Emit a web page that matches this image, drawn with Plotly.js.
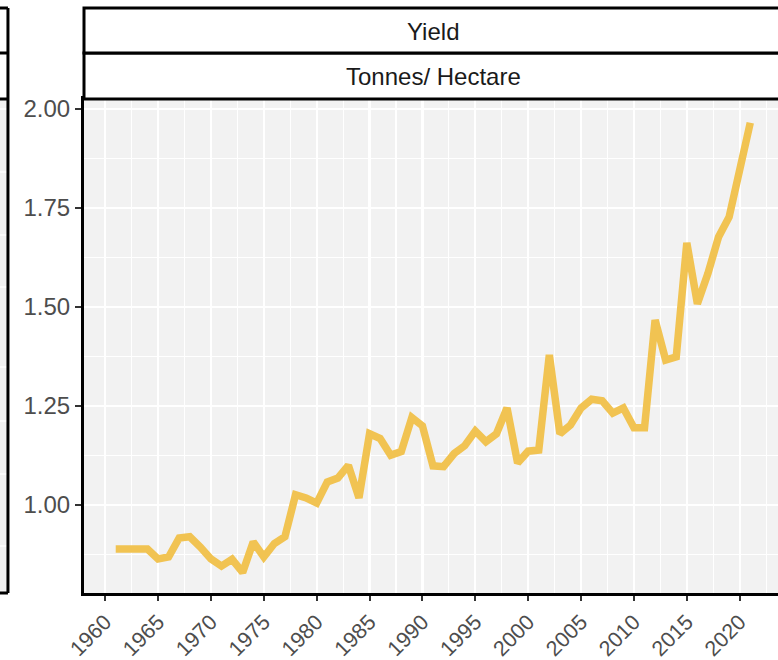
<!DOCTYPE html>
<html>
<head>
<meta charset="utf-8">
<script src="https://cdn.plot.ly/plotly-3.0.1.min.js"></script>
<style>
html, body { margin: 0; padding: 0; overflow: hidden; background: #ffffff; }
#chart { width: 790px; height: 660px; }
</style>
</head>
<body>
<div id="chart"></div>
<script>
// Data
const years = [1961,1962,1963,1964,1965,1966,1967,1968,1969,1970,
               1971,1972,1973,1974,1975,1976,1977,1978,1979,1980,
               1981,1982,1983,1984,1985,1986,1987,1988,1989,1990,
               1991,1992,1993,1994,1995,1996,1997,1998,1999,2000,
               2001,2002,2003,2004,2005,2006,2007,2008,2009,2010,
               2011,2012,2013,2014,2015,2016,2017,2018,2019,2020,2021];
const yieldValues = [0.889,0.889,0.889,0.889,0.864,0.869,0.917,0.920,0.894,0.864,
                     0.846,0.863,0.830,0.907,0.869,0.903,0.920,1.026,1.018,1.005,
                     1.058,1.068,1.100,1.018,1.180,1.168,1.126,1.135,1.221,1.200,
                     1.099,1.097,1.130,1.150,1.187,1.160,1.180,1.245,1.106,1.136,
                     1.139,1.379,1.180,1.202,1.245,1.267,1.263,1.232,1.245,1.195,
                     1.195,1.467,1.366,1.374,1.662,1.508,1.585,1.677,1.727,1.850,1.965];
const xTickVals = [1960,1965,1970,1975,1980,1985,1990,1995,2000,2005,2010,2015,2020];
const yTickVals = [1.00,1.25,1.50,1.75,2.00];
const yTickText = ["1.00","1.25","1.50","1.75","2.00"];
const stripTop = "Yield";
const stripBottom = "Tonnes/ Hectare";

const W = 790, H = 660;
const mL = 84, mR = 8.4, mT = 99, mB = 67;
const plotW = W - mL - mR, plotH = H - mT - mB;
const px2paperX = px => (px - mL) / plotW;
const px2paperY = py => (H - mB - py) / plotH;

const panelBg = "#f2f2f2";
const shapes = [];
// strips over the main panel
shapes.push({type:"rect", xref:"paper", yref:"paper", x0:0, x1:1.05,
  y0:px2paperY(99), y1:px2paperY(53), fillcolor:"#ffffff", line:{color:"#000000", width:3}, layer:"above"});
shapes.push({type:"rect", xref:"paper", yref:"paper", x0:0, x1:1.05,
  y0:px2paperY(53), y1:px2paperY(8), fillcolor:"#ffffff", line:{color:"#000000", width:3}, layer:"above"});
// partial neighbouring panel at far left
const lx0 = px2paperX(-20), lx1 = px2paperX(8);
shapes.push({type:"rect", xref:"paper", yref:"paper", x0:lx0, x1:lx1, y0:0, y1:1,
  fillcolor:panelBg, line:{width:0}, layer:"below"});
[109,172,235,287,367,421,474,546].forEach(py => {
  shapes.push({type:"line", xref:"paper", yref:"paper", x0:lx0, x1:lx1,
    y0:px2paperY(py), y1:px2paperY(py), line:{color:"#ffffff", width:1.5}, layer:"below"});
});
shapes.push({type:"line", xref:"paper", yref:"paper", x0:lx1, x1:lx1, y0:0, y1:px2paperY(8),
  line:{color:"#000000", width:3}});
shapes.push({type:"line", xref:"paper", yref:"paper", x0:lx0, x1:lx1, y0:0, y1:0,
  line:{color:"#000000", width:3}});
shapes.push({type:"line", xref:"paper", yref:"paper", x0:lx0, x1:lx1, y0:px2paperY(99), y1:px2paperY(99),
  line:{color:"#000000", width:3}});
shapes.push({type:"line", xref:"paper", yref:"paper", x0:lx0, x1:lx1, y0:px2paperY(53), y1:px2paperY(53),
  line:{color:"#000000", width:3}});
shapes.push({type:"line", xref:"paper", yref:"paper", x0:lx0, x1:lx1, y0:px2paperY(8), y1:px2paperY(8),
  line:{color:"#000000", width:3}});

const trace = {
  x: years, y: yieldValues, type: "scatter", mode: "lines",
  line: {color: "#f1c352", width: 7.5, shape: "linear"},
  hoverinfo: "skip"
};

const layout = {
  width: W, height: H,
  margin: {l: mL, r: mR, t: mT, b: mB, pad: 0},
  paper_bgcolor: "#ffffff",
  plot_bgcolor: panelBg,
  showlegend: false,
  font: {family: "Liberation Sans, Arial, sans-serif", color: "#4d4d4d"},
  xaxis: {
    range: [1958, 2024], tickmode: "array", tickvals: xTickVals,
    tickangle: -45, ticks: "outside", ticklen: 5, tickwidth: 2, tickcolor: "#333333",
    tickfont: {size: 21.5, color: "#4d4d4d"},
    showgrid: true, gridcolor: "#ffffff", gridwidth: 2.2,
    minor: {dtick: 2.5, tick0: 1957.5, showgrid: true, gridcolor: "#ffffff", gridwidth: 1.1, ticks: ""},
    showline: true, linecolor: "#000000", linewidth: 3, mirror: true,
    zeroline: false, fixedrange: true
  },
  yaxis: {
    range: [0.778, 2.025], tickmode: "array", tickvals: yTickVals, ticktext: yTickText,
    ticks: "outside", ticklen: 6, tickwidth: 2, tickcolor: "#333333",
    tickfont: {size: 24, color: "#4d4d4d"},
    showgrid: true, gridcolor: "#ffffff", gridwidth: 2.2,
    minor: {dtick: 0.125, tick0: 0.875, showgrid: true, gridcolor: "#ffffff", gridwidth: 1.1, ticks: ""},
    showline: true, linecolor: "#000000", linewidth: 3, mirror: true,
    zeroline: false, fixedrange: true
  },
  shapes: shapes,
  annotations: [
    {text: stripTop, xref: "paper", yref: "paper", x: px2paperX(432.8), y: px2paperY(31),
     showarrow: false, xanchor: "center", yanchor: "middle", font: {size: 24, color: "#1a1a1a"}},
    {text: stripBottom, xref: "paper", yref: "paper", x: px2paperX(432.8), y: px2paperY(76),
     showarrow: false, xanchor: "center", yanchor: "middle", font: {size: 24, color: "#1a1a1a"}}
  ]
};

Plotly.newPlot("chart", [trace], layout, {staticPlot: true, displayModeBar: false});
</script>
</body>
</html>
